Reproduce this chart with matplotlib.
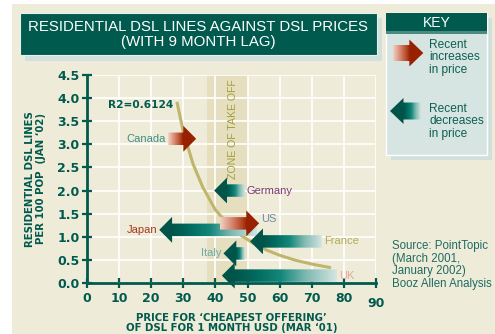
import numpy as np
import matplotlib.pyplot as plt
from matplotlib.patches import Polygon, Rectangle
from matplotlib.colors import LinearSegmentedColormap

plt.rcParams['font.family'] = ['Liberation Sans', 'DejaVu Sans']

# --- Data ---
countries = ['Canada', 'Germany', 'Japan', 'US', 'France', 'Italy', 'UK']
old_price = [25.3, 49.2, 53.0, 41.4, 73.1, 49.2, 77.8]   # USD / month (Mar '01)
new_price = [34.0, 39.6, 22.5, 53.6, 50.8, 42.5, 42.0]
dsl_lines = [3.12, 2.00, 1.15, 1.29, 0.90, 0.64, 0.16]   # per 100 pop (Jan '02)
label_side = ['left', 'right', 'left', 'right', 'right', 'left', 'right']
label_colors = ['#3E8E84', '#7A3A72', '#A8381C', '#6E8CA2', '#B3AC58', '#6AAAA3', '#E2A89C']

# power trend line (R2 = 0.6124)
trend_x = [28, 30, 33, 36, 40, 44, 48, 52, 56, 60, 65, 70, 76]
trend_y = [3.92, 3.27, 2.58, 2.08, 1.58, 1.27, 1.03, 0.85, 0.71, 0.60, 0.49, 0.41, 0.33]

zone = (37.3, 50.0)
x_ticks = list(range(0, 91, 10))
y_ticks = [0.0, 0.5, 1.0, 1.5, 2.0, 2.5, 3.0, 3.5, 4.0, 4.5]

# --- Colours ---
TEAL = '#005A4E'
BEIGE = '#EFEBD9'
SHADOW = '#D2E0DD'
BOLD_FONT = ['DejaVu Sans']
teal_cmap = LinearSegmentedColormap.from_list(
    'teal', [(0, '#D3E5E1'), (0.3, '#7FB9B1'), (0.55, '#13877A'), (0.8, '#006A5E'), (1, '#00544A')])
red_cmap = LinearSegmentedColormap.from_list(
    'red', [(0, '#F2D2C4'), (0.5, '#D27C64'), (0.85, '#B0401E'), (1, '#982100')])

W, H = 495, 334
fig = plt.figure(figsize=(W / 100, H / 100), dpi=100, facecolor='white')

# background layer in pixel coordinates
bg = fig.add_axes([0, 0, 1, 1], zorder=0)
bg.axis('off')


def gradient_arrow(axis, x_tail, x_tip, y, cmap, shaft, head, head_len, zorder=3):
    step = np.sign(x_tip - x_tail)
    x_base = x_tip - step * head_len
    verts = [(x_tail, y - shaft), (x_base, y - shaft), (x_base, y - head), (x_tip, y),
             (x_base, y + head), (x_base, y + shaft), (x_tail, y + shaft)]
    outline = Polygon(verts, closed=True, transform=axis.transData)
    x0, x1 = sorted((x_tail, x_tip))
    xs = np.linspace(x0, x1, 400)
    t = np.clip((xs - x_tail) / (x_base - x_tail), 0, 1)
    im = axis.imshow(t[np.newaxis, :], cmap=cmap, vmin=0, vmax=1, aspect='auto',
                     extent=[x0, x1, y - head, y + head], interpolation='bilinear', zorder=zorder)
    im.set_clip_path(outline)
    im.set_clip_box(fig.bbox)
    return im


bg.add_patch(Rectangle((12, 4), W - 12, H - 4, fc=BEIGE, ec='none'))

# title box
bg.add_patch(Rectangle((25, 18), 357, 43, fc=SHADOW, ec='none'))
bg.add_patch(Rectangle((20, 13), 357, 42, fc=TEAL, ec='#E6EFEC', lw=0.8))
bg.text(198.5, 34.5, 'RESIDENTIAL DSL LINES AGAINST DSL PRICES\n(WITH 9 MONTH LAG)',
        color='white', fontsize=10.8, ha='center', va='center', linespacing=1.05)

# key box
bg.add_patch(Rectangle((391, 18), 101, 142, fc=SHADOW, ec='none'))
bg.add_patch(Rectangle((386, 13), 101, 142, fc='#D6E5E2', ec='white', lw=1))
bg.add_patch(Rectangle((386, 13), 101, 20, fc=TEAL, ec='none'))
bg.add_patch(Rectangle((386, 31), 101, 3, fc='#4A8A80', ec='none'))
bg.text(436.5, 23, 'KEY', color='white', fontsize=10, ha='center', va='center')
gradient_arrow(bg, 392.7, 423.3, 53, red_cmap, 8, 13.5, 14)
gradient_arrow(bg, 420.7, 390, 111, teal_cmap, 8.5, 13, 13.5)
bg.text(429, 57.5, 'Recent\nincreases\nin price', color='#0E5E54', fontsize=8.6,
        ha='left', va='center', linespacing=1.06)
bg.text(429, 121.5, 'Recent\ndecreases\nin price', color='#0E5E54', fontsize=8.6,
        ha='left', va='center', linespacing=1.06)

# source note
bg.text(392, 265, 'Source: PointTopic\n(March 2001,\nJanuary 2002)\nBooz Allen Analysis',
        color='#1E6C62', fontsize=8.3, ha='left', va='center', linespacing=1.06)

bg.set_xlim(0, W)
bg.set_ylim(H, 0)

# --- Main chart ---
ax = fig.add_axes([87 / W, 1 - 283 / H, (376 - 87) / W, (283 - 75) / H], zorder=1)
ax.set_facecolor(BEIGE)
ax.grid(True, color='white', lw=1.2)
ax.set_axisbelow(True)

ax.axvspan(zone[0], zone[1], color='#E5DFBF', zorder=0.5, lw=0)
ax.text(45.5, 3.32, 'ZONE OF TAKE OFF', rotation=90, color='#A39D3C', fontsize=7.6,
        ha='center', va='center', zorder=2)

ax.plot(trend_x, trend_y, color='#BFB56B', lw=2.2, zorder=2, solid_capstyle='butt')
ax.text(6.6, 3.85, 'R2=0.6124', color=TEAL, fontsize=7.6, fontweight='bold',
        family=BOLD_FONT, ha='left', va='center', zorder=4)

for name, x0, x1, y, side, col in zip(countries, old_price, new_price, dsl_lines,
                                      label_side, label_colors):
    cmap = red_cmap if x1 > x0 else teal_cmap
    gradient_arrow(ax, x0, x1, y, cmap, 0.135, 0.28, 4.0)
    dy = 0.1 if name == 'US' else 0
    if side == 'left':
        ax.text(min(x0, x1) - 0.7, y + dy, name, color=col, fontsize=8,
                ha='right', va='center', zorder=4)
    else:
        ax.text(max(x0, x1) + 0.6, y + dy, name, color=col, fontsize=8,
                ha='left', va='center', zorder=4)

for side in ['top', 'right']:
    ax.spines[side].set_visible(False)
for side in ['left', 'bottom']:
    ax.spines[side].set_color(TEAL)
    ax.spines[side].set_linewidth(2)
    ax.spines[side].set_zorder(5)

ax.set_xticks(x_ticks)
ax.set_xticklabels([str(v) for v in x_ticks], fontweight='bold', family=BOLD_FONT)
ax.set_yticks(y_ticks)
ax.set_yticklabels([f'{v:.1f}' for v in y_ticks], fontweight='bold', family=BOLD_FONT)
ax.tick_params(direction='inout', length=7, width=1.6, color=TEAL, labelcolor=TEAL,
               labelsize=9)
ax.tick_params(axis='x', pad=3)
ax.tick_params(axis='y', pad=2)
ax.xaxis.get_major_ticks()[-1].set_pad(6.5)

ax.set_xlabel('PRICE FOR \u2018CHEAPEST OFFERING\u2019\nOF DSL FOR 1 MONTH USD (MAR \u201801)',
              color=TEAL, fontsize=7.3, fontweight='bold', family=BOLD_FONT,
              labelpad=2, linespacing=1.1)
ax.set_ylabel('RESIDENTIAL DSL LINES\nPER 100 POP  (JAN \u201802)',
              color=TEAL, fontsize=7.3, fontweight='bold', family=BOLD_FONT,
              labelpad=8, linespacing=1.1)

ax.set_xlim(0, 90)
ax.set_ylim(0, 4.5)

fig.savefig('out.png', dpi=100, facecolor='white')
